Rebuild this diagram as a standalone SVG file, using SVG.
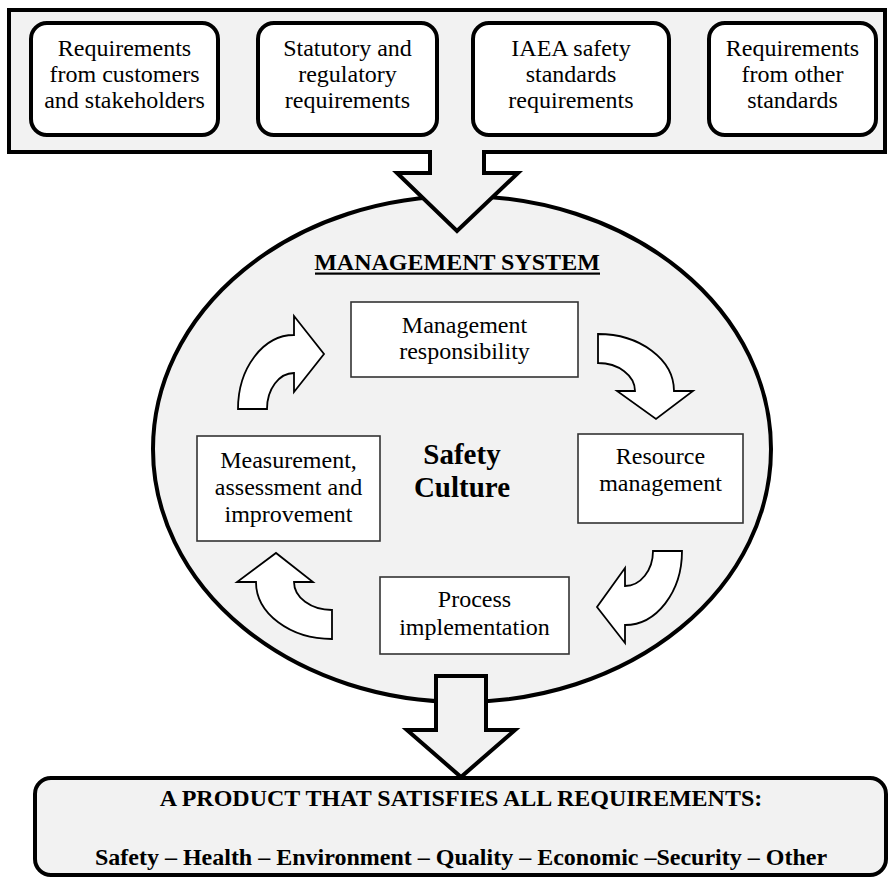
<svg xmlns="http://www.w3.org/2000/svg" width="890" height="879" viewBox="0 0 890 879">
  <defs>
    <style>
      .t { font-family: "Liberation Serif", "Times New Roman", serif; font-size: 24px; fill: #000; text-anchor: middle; }
      .b { font-weight: bold; }
      .heavy { stroke: #000; stroke-width: 4; stroke-linejoin: miter; }
      .grey { fill: #f2f2f2; }
      .req { fill: #fff; stroke: #000; stroke-width: 4; }
      .step { fill: #fff; stroke: #333; stroke-width: 1.6; }
      .turn { fill: #fff; stroke: #000; stroke-width: 1.8; stroke-linejoin: miter; }
    </style>
  </defs>

  <!-- Inputs banner -->
  <g id="inputs">
    <rect x="9" y="10" width="876" height="142" class="grey heavy"/>
  </g>
  <g id="req-customers">
    <rect x="31" y="23" width="187" height="112" rx="16" class="req"/>
    <text class="t" x="124.5" y="56">Requirements</text>
    <text class="t" x="124.5" y="82">from customers</text>
    <text class="t" x="124.5" y="108">and stakeholders</text>
  </g>
  <g id="req-statutory">
    <rect x="258" y="23" width="179" height="112" rx="16" class="req"/>
    <text class="t" x="347.5" y="56">Statutory and</text>
    <text class="t" x="347.5" y="82">regulatory</text>
    <text class="t" x="347.5" y="108">requirements</text>
  </g>
  <g id="req-iaea">
    <rect x="473" y="23" width="196" height="112" rx="16" class="req"/>
    <text class="t" x="571" y="56">IAEA safety</text>
    <text class="t" x="571" y="82">standards</text>
    <text class="t" x="571" y="108">requirements</text>
  </g>
  <g id="req-other">
    <rect x="709" y="23" width="167" height="112" rx="16" class="req"/>
    <text class="t" x="792.5" y="56">Requirements</text>
    <text class="t" x="792.5" y="82">from other</text>
    <text class="t" x="792.5" y="108">standards</text>
  </g>

  <!-- Management system ellipse -->
  <g id="management-system">
    <ellipse cx="462" cy="449" rx="309" ry="253" class="grey heavy"/>
    <text class="t b" x="457" y="270">MANAGEMENT SYSTEM</text>
    <rect x="315" y="272.5" width="285" height="2.2" fill="#000"/>
    <text class="t b" x="462" y="464" style="font-size:29px">Safety</text>
    <text class="t b" x="462" y="497" style="font-size:29px">Culture</text>
  </g>

  <g id="management-responsibility">
    <rect x="351" y="302" width="227" height="75" class="step"/>
    <text class="t" x="464.5" y="333">Management</text>
    <text class="t" x="464.5" y="359">responsibility</text>
  </g>
  <g id="resource-management">
    <rect x="578" y="434" width="165" height="89" class="step"/>
    <text class="t" x="660.5" y="464">Resource</text>
    <text class="t" x="660.5" y="491">management</text>
  </g>
  <g id="process-implementation">
    <rect x="380" y="577" width="189" height="77" class="step"/>
    <text class="t" x="474.5" y="607">Process</text>
    <text class="t" x="474.5" y="635">implementation</text>
  </g>
  <g id="measurement">
    <rect x="197" y="436" width="183" height="105" class="step"/>
    <text class="t" x="288.5" y="468">Measurement,</text>
    <text class="t" x="288.5" y="495">assessment and</text>
    <text class="t" x="288.5" y="522">improvement</text>
  </g>

  <!-- Output box -->
  <g id="product">
    <rect x="35" y="778" width="851" height="97" rx="16" class="grey heavy"/>
    <text class="t b" x="461" y="806">A PRODUCT THAT SATISFIES ALL REQUIREMENTS:</text>
    <text class="t b" x="461" y="865">Safety – Health – Environment – Quality – Economic –Security – Other</text>
  </g>

  <!-- Connectors -->
  <g id="connectors">
    <!-- requirements flow into the management system -->
    <path d="M430,146 L430,173 L397,173 L457,231 L518,173 L484,173 L484,146 Z" class="grey"/>
    <path d="M430,150 L430,173 L397,173 L457,231 L518,173 L484,173 L484,150" fill="none" class="heavy"/>
    <!-- management system delivers the product -->
    <path d="M436,676 L486,676 L486,730 L515,730 L461,777 L407,730 L436,730 Z" class="grey heavy"/>
    <!-- cycle arrows -->
    <path d="M238,409 A56,74 0 0 1 294,335 L294,316 L324,354 L294,392 L294,373 A27,36 0 0 0 267,409 Z" class="turn"/>
    <path d="M598,334 A76,57 0 0 1 674,391 L693,391 L656,419 L617,391 L635,391 A37,28 0 0 0 598,363 Z" class="turn"/>
    <path d="M682,551 A57,74 0 0 1 625,625 L625,643 L597,607 L625,568 L625,586 A28,35 0 0 0 653,551 Z" class="turn"/>
    <path d="M332,639 A76,57 0 0 1 256,582 L237,582 L276,553 L313,582 L294,582 A38,28 0 0 0 332,610 Z" class="turn"/>
  </g>
</svg>
